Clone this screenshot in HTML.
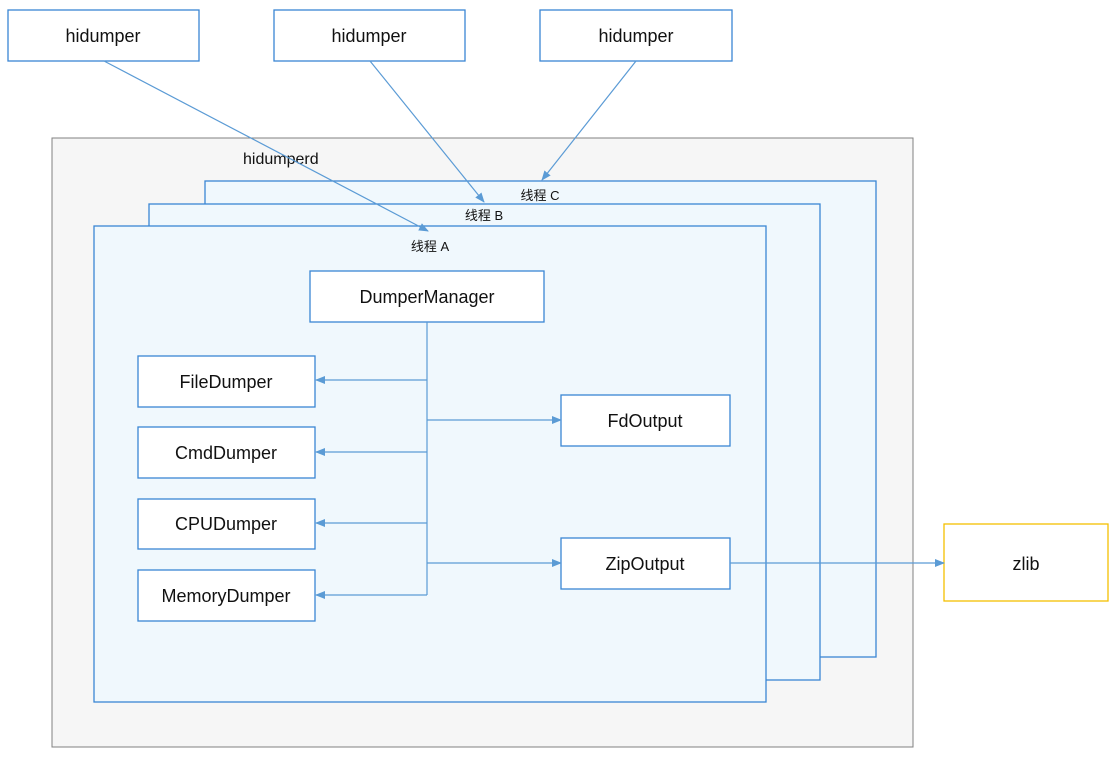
<!DOCTYPE html>
<html><head><meta charset="utf-8"><style>
body{margin:0;background:#fff}
svg{display:block}
text{font-family:"Liberation Sans","Noto Sans CJK SC",sans-serif;fill:#111}
.b{fill:#fff;stroke:#3a86d4;stroke-width:1.3}
.t{fill:#f0f8fd;stroke:#3a86d4;stroke-width:1.3}
.l{stroke:#5b9bd5;stroke-width:1.2;fill:none}
.m{font-size:18px;text-anchor:middle}
.s{font-size:13px;text-anchor:middle}
</style></head><body>
<svg width="1119" height="762" viewBox="0 0 1119 762">
<defs><marker id="a" markerWidth="10" markerHeight="8" refX="9" refY="4" orient="auto" markerUnits="userSpaceOnUse"><path d="M0,0L10,4L0,8z" fill="#5b9bd5"/></marker></defs>
<rect x="52" y="138" width="861" height="609" fill="#f6f6f6" stroke="#808080" stroke-width="1"/>
<text x="243" y="164" style="font-size:16px">hidumperd</text>
<rect class="t" x="205" y="181" width="671" height="476"/>
<rect class="t" x="149" y="204" width="671" height="476"/>
<rect class="t" x="94" y="226" width="672" height="476"/>
<text class="s" x="540" y="200">线程 C</text>
<text class="s" x="484" y="220">线程 B</text>
<text class="s" x="430" y="251">线程 A</text>
<rect class="b" x="8" y="10" width="191" height="51"/>
<rect class="b" x="274" y="10" width="191" height="51"/>
<rect class="b" x="540" y="10" width="192" height="51"/>
<text class="m" x="103" y="42">hidumper</text>
<text class="m" x="369" y="42">hidumper</text>
<text class="m" x="636" y="42">hidumper</text>
<line class="l" x1="104" y1="61" x2="428" y2="231" marker-end="url(#a)"/>
<line class="l" x1="370" y1="61" x2="484" y2="202" marker-end="url(#a)"/>
<line class="l" x1="636" y1="61" x2="542" y2="180" marker-end="url(#a)"/>
<rect class="b" x="310" y="271" width="234" height="51"/>
<text class="m" x="427" y="303">DumperManager</text>
<rect class="b" x="138" y="356" width="177" height="51"/>
<rect class="b" x="138" y="427" width="177" height="51"/>
<rect class="b" x="138" y="499" width="177" height="50"/>
<rect class="b" x="138" y="570" width="177" height="51"/>
<text class="m" x="226" y="388">FileDumper</text>
<text class="m" x="226" y="459">CmdDumper</text>
<text class="m" x="226" y="530">CPUDumper</text>
<text class="m" x="226" y="602">MemoryDumper</text>
<rect class="b" x="561" y="395" width="169" height="51"/>
<rect class="b" x="561" y="538" width="169" height="51"/>
<text class="m" x="645" y="427">FdOutput</text>
<text class="m" x="645" y="570">ZipOutput</text>
<rect x="944" y="524" width="164" height="77" fill="#fff" stroke="#f5c000" stroke-width="1.3"/>
<text class="m" x="1026" y="570">zlib</text>
<path class="l" d="M427,322V595"/>
<line class="l" x1="427" y1="380" x2="316" y2="380" marker-end="url(#a)"/>
<line class="l" x1="427" y1="452" x2="316" y2="452" marker-end="url(#a)"/>
<line class="l" x1="427" y1="523" x2="316" y2="523" marker-end="url(#a)"/>
<line class="l" x1="427" y1="595" x2="316" y2="595" marker-end="url(#a)"/>
<line class="l" x1="427" y1="420" x2="561" y2="420" marker-end="url(#a)"/>
<line class="l" x1="427" y1="563" x2="561" y2="563" marker-end="url(#a)"/>
<line class="l" x1="730" y1="563" x2="944" y2="563" marker-end="url(#a)"/>
</svg>
</body></html>
